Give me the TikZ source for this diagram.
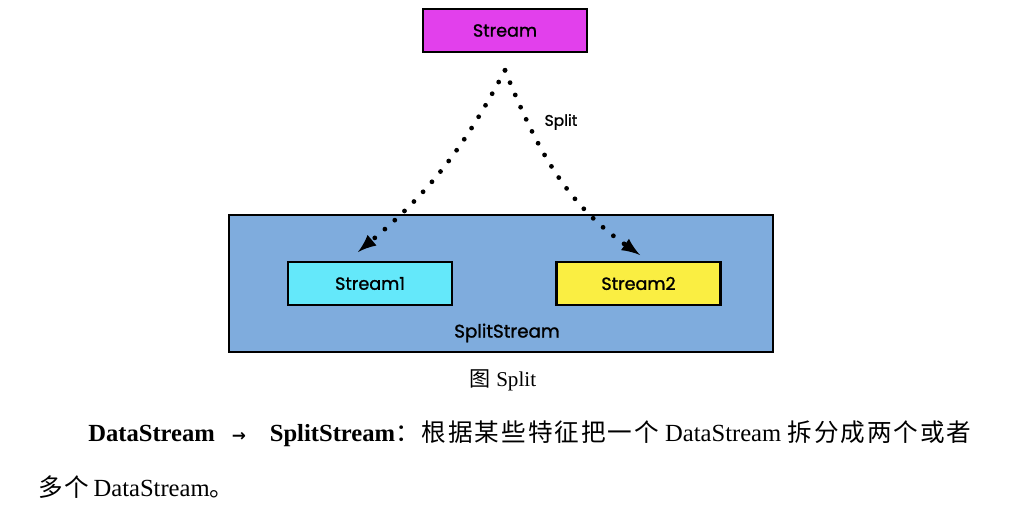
\documentclass[tikz,border=0pt]{standalone}
\usepackage{fontspec}
\setmainfont{Liberation Serif}
\newfontfamily\boxfont[FakeBold=1.2]{Poppins}
\newfontfamily\cjk[LetterSpace=8]{Noto Sans CJK SC}
\newfontfamily\symfont{DejaVu Sans}
\usetikzlibrary{arrows,positioning}
\definecolor{streampink}{RGB}{226,64,236}
\definecolor{streamcyan}{RGB}{100,232,250}
\definecolor{streamyellow}{RGB}{250,238,66}
\definecolor{splitblue}{RGB}{127,172,221}
\tikzset{
  box/.style={draw,line width=2pt,minimum width=4.1cm,minimum height=1.075cm,
    font=\boxfont\fontsize{12.5}{14}\selectfont},
  dots/.style={line width=3.4pt,line cap=round,dash pattern=on 0pt off 9.5pt,-latex},
}
\begin{document}
\begin{tikzpicture}[x=0.025cm,y=-0.025cm]
        \useasboundingbox (0,0) rectangle (1024,512);
        \node [box,fill=splitblue,minimum width=13.6cm,minimum height=3.425cm] (split) at (501,283.5) {};
        \node [box,fill=streampink] (top) at (505,30.5) {Stream};
        \node [box,fill=streamcyan] (s1) at (370,283.5) {Stream1};
        \node [box,fill=streamyellow] (s2) at (638.5,283.5) {Stream2};
        \node [font=\boxfont\fontsize{13}{15}\selectfont] (lbl) at (507,333) {SplitStream};
        \node [font=\boxfont\fontsize{11}{12}\selectfont] (splitlbl) at (561,122) {Split};
        \coordinate (e1) at (358,252);
        \coordinate (e2) at (640,255);
        \draw [dots] ([yshift=-12]top.south) to[out=-118,in=40] (e1);
        \draw [dots] ([yshift=-12]top.south) to[out=-68,in=145] (e2);
        \node [font=\fontsize{15}{17}\selectfont] (cap) at (503,380) {{\cjk 图}\ Split};
        \node [anchor=west,inner sep=0pt,font=\fontsize{17.5}{20}\selectfont] (line1) at (88,434)
          {\textbf{DataStream\hspace{12pt}{\symfont\fontsize{12}{14}\selectfont →}\hspace{17pt}SplitStream}{\cjk ：根据某些特征把一个}\ DataStream\ {\cjk 拆分成两个或者}};
        \node [anchor=west,inner sep=0pt,font=\fontsize{17.5}{20}\selectfont] (line2) at (38,487)
          {{\cjk 多个}\,DataStream{\cjk 。}};
\end{tikzpicture}
\end{document}
